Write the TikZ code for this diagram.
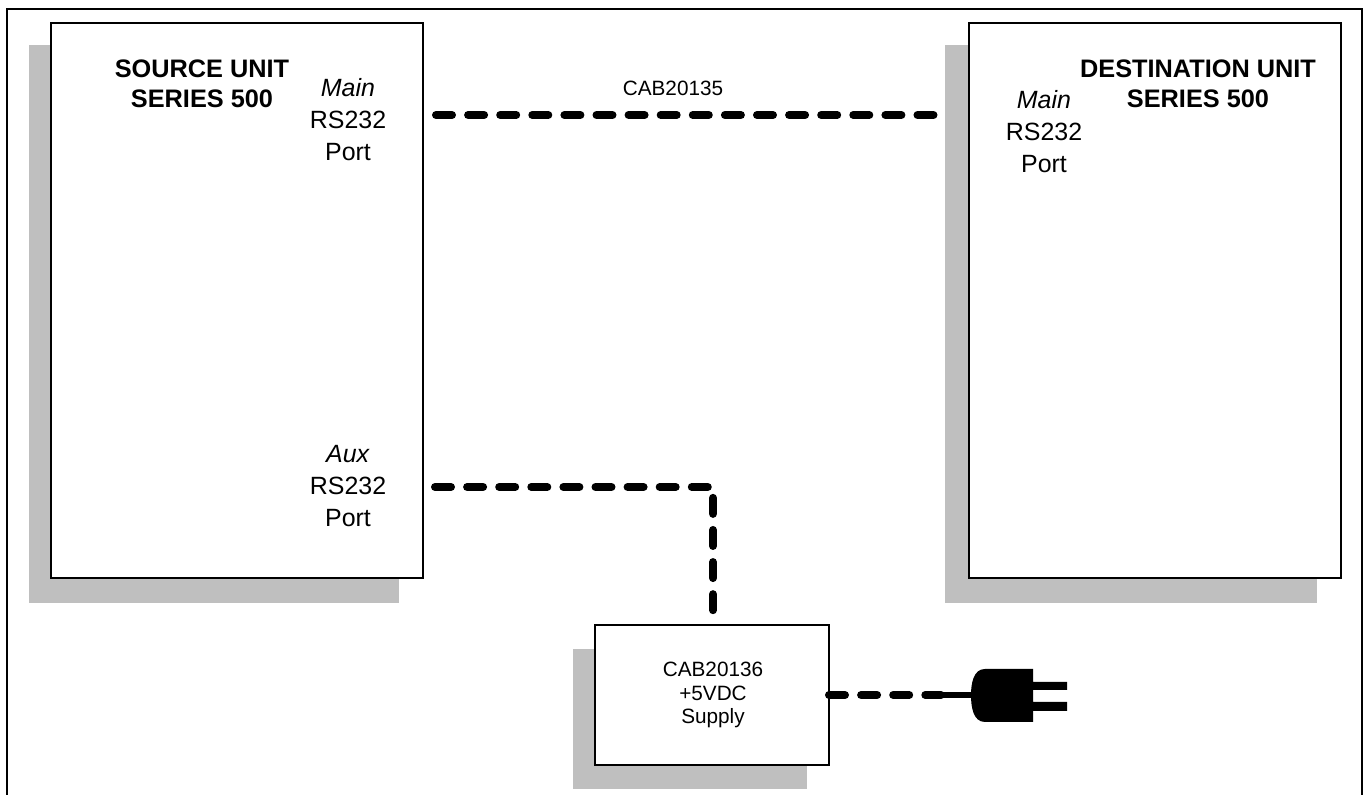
\documentclass[tikz,border=0pt]{standalone}
\usepackage{fontspec}
\setmainfont{Liberation Sans}
\tikzset{
  shadow/.style={fill=black!25,draw=none,inner sep=0pt,outer sep=0pt},
  unit/.style={fill=white,draw=black,line width=0.02cm,inner sep=0pt,outer sep=0pt},
  cable/.style={line width=0.08cm,line cap=round,dash pattern=on 0.16cm off 0.161cm},
  title/.style={align=center,font=\fontsize{7.2}{8.4}\selectfont\bfseries},
  port/.style={align=center,font=\fontsize{7.1}{9.1}\selectfont},
  small/.style={align=center,font=\fontsize{5.9}{6.8}\selectfont}
}

\begin{document}
\begin{tikzpicture}
\useasboundingbox (0,0) rectangle (13.67,7.95);
\draw[line width=0.02cm] (0.07,0) -- (0.07,7.86) -- (13.62,7.86) -- (13.62,0);
\node[shadow,minimum width=3.70cm,minimum height=5.58cm] (srcshadow) at (2.14,4.71) {};
\node[shadow,minimum width=3.72cm,minimum height=5.58cm] (dstshadow) at (11.31,4.71) {};
\node[shadow,minimum width=2.34cm,minimum height=1.40cm] (supshadow) at (6.90,0.76) {};
\node[unit,minimum width=3.72cm,minimum height=5.55cm] (src) at (2.37,4.945) {};
\node[unit,minimum width=3.72cm,minimum height=5.55cm] (dst) at (11.55,4.945) {};
\node[unit,minimum width=2.34cm,minimum height=1.40cm] (supply) at (7.12,1.00) {};
\node[title] (srctitle) at (2.02,7.11) {SOURCE UNIT\\SERIES 500};
\node[title] (dsttitle) at (11.98,7.11) {DESTINATION UNIT\\SERIES 500};
\node[port] (srcmain) at (3.48,6.75) {\textit{Main}\\RS232\\Port};
\node[port] (srcaux) at (3.48,3.09) {\textit{Aux}\\RS232\\Port};
\node[port] (dstmain) at (10.44,6.63) {\textit{Main}\\RS232\\Port};
\node[small] (cabmain) at (6.73,7.07) {CAB20135};
\node[small] (suplabel) at (7.13,1.00) {CAB20136\\+5VDC\\Supply};
\coordinate (mainA) at (4.36,6.80);
\coordinate (mainB) at (9.34,6.80);
\coordinate (auxA) at (4.35,3.08);
\coordinate (auxB) at (7.13,3.08);
\coordinate (auxC) at (7.13,1.84);
\coordinate (plugin) at (9.41,1.00);
\coordinate (plugtip) at (9.75,1.00);
\draw[cable] (mainA) -- (mainB);
\draw[cable] (auxA) -- (auxB) -- (auxC);
\draw[cable] (supply.east) -- (plugin);
\draw[line width=0.06cm] (plugin) -- (plugtip);
\fill (9.85,1.26) to [out=180,in=90] (9.71,1.00) to [out=270,in=180] (9.85,0.73) -- (10.33,0.73) -- (10.33,0.84) -- (10.67,0.84) -- (10.67,0.93) -- (10.33,0.93) -- (10.33,1.05) -- (10.67,1.05) -- (10.67,1.13) -- (10.33,1.13) -- (10.33,1.26) -- cycle;
\end{tikzpicture}
\end{document}
